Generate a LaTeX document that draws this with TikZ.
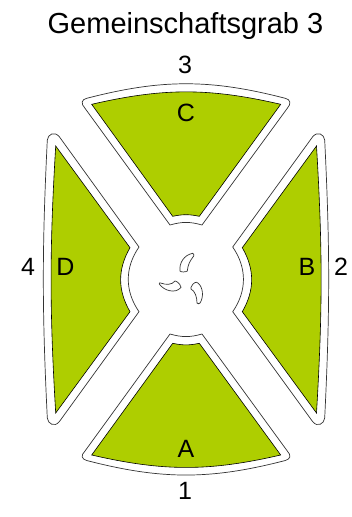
\documentclass[tikz,border=0pt]{standalone}
\usepackage{fontspec}
\setmainfont{Liberation Sans}
\definecolor{grasgruen}{HTML}{AECE00}
\begin{document}
\begin{tikzpicture}[x=1pt,y=-1pt,font=\fontsize{25}{28}\selectfont,
    wall/.style={draw=black!80,line width=0.7pt,fill=white},
    bed/.style={draw=black,line width=0.6pt,fill=grasgruen},
    claw/.style={draw=black!80,line width=0.7pt,fill=white},
    lbl/.style={inner sep=0pt}]
  \useasboundingbox (0,0) rectangle (351,517);
  % outer walls
  \draw[wall] (86.7,98.3) to[bend left=14.5] (285.3,98.3)
    .. controls (290.5,99.5) and (291.5,103.5) .. (287.3,108.3)
    -- (202,225) to[bend right=16] (170,225) -- (85,108.3)
    .. controls (80.5,103.5) and (81.5,99.5) .. (86.7,98.3) -- cycle;
  \draw[wall] (324.7,140) to[bend left=2.8] (324.7,418)
    .. controls (324,424) and (317.5,427.5) .. (312.7,421.7)
    -- (232.7,311.7) to[bend right=34.6] (232.7,247) -- (312.7,136.7)
    .. controls (317.5,131) and (324,134) .. (324.7,140) -- cycle;
  \draw[wall] (285.3,460.5) to[bend left=14.5] (86.7,460.5)
    .. controls (81.5,459) and (80.5,455.5) .. (85,451)
    -- (170,334) to[bend right=16] (202,334) -- (287.3,451)
    .. controls (291.5,455.5) and (290.5,459) .. (285.3,460.5) -- cycle;
  \draw[wall] (47.3,418) to[bend left=2.8] (47.3,140)
    .. controls (48,134) and (54.5,131) .. (59.3,136.7)
    -- (139,247) to[bend right=34.6] (139,311.7) -- (59.3,421.7)
    .. controls (54.5,427.5) and (48,424) .. (47.3,418) -- cycle;
  % green beds
  \draw[bed] (91.7,104.3) to[bend left=13] (280.7,104.3) -- (199.3,216.3)
    to[bend right=11.8] (172.7,216.3) -- cycle;
  \draw[bed] (316.5,146) to[bend left=3.4] (316.5,413) -- (242.3,311.7)
    to[bend right=30] (242.3,247.7) -- cycle;
  \draw[bed] (280.7,455) to[bend left=13] (91.7,455) -- (172.7,343.3)
    to[bend right=11.8] (199.3,343.3) -- cycle;
  \draw[bed] (55.7,413) to[bend left=3.4] (55.7,146) -- (130,247.7)
    to[bend right=30] (130,311.7) -- cycle;
  % three remains in the middle
  \draw[claw] (192.7,253.3) .. controls (184,255) and (179,263) .. (180,271)
    .. controls (181,272.5) and (186,272) .. (187.3,271)
    .. controls (188,264) and (190,261) .. (193.7,256)
    .. controls (194,255) and (194,253.5) .. (192.7,253.3) -- cycle;
  \draw[claw] (159.3,284) .. controls (164,291) and (176,294) .. (181,287.3)
    .. controls (180,283) and (176,281) .. (175,281)
    .. controls (172,285) and (166,285) .. (160.5,283)
    .. controls (159.5,282.5) and (159,283) .. (159.3,284) -- cycle;
  \draw[claw] (191,287.3) .. controls (193,283) and (196,281) .. (198,283)
    .. controls (203,287) and (204,297) .. (200,303)
    .. controls (199,304) and (198,304) .. (197,303)
    .. controls (197,297) and (195,291) .. (191,289) -- cycle;
  % labels
  \node[lbl,font=\fontsize{29}{32}\selectfont] (titel) at (185.5,26.5) {Gemeinschaftsgrab 3};
  \node[lbl] (n3) at (185,64.5) {3};
  \node[lbl] (c) at (186,113) {C};
  \node[lbl] (n4) at (28,267) {4};
  \node[lbl] (d) at (65.5,267) {D};
  \node[lbl] (b) at (307,267) {B};
  \node[lbl] (n2) at (341,267) {2};
  \node[lbl] (a) at (186,449) {A};
  \node[lbl] (n1) at (185,491) {1};
\end{tikzpicture}
\end{document}
